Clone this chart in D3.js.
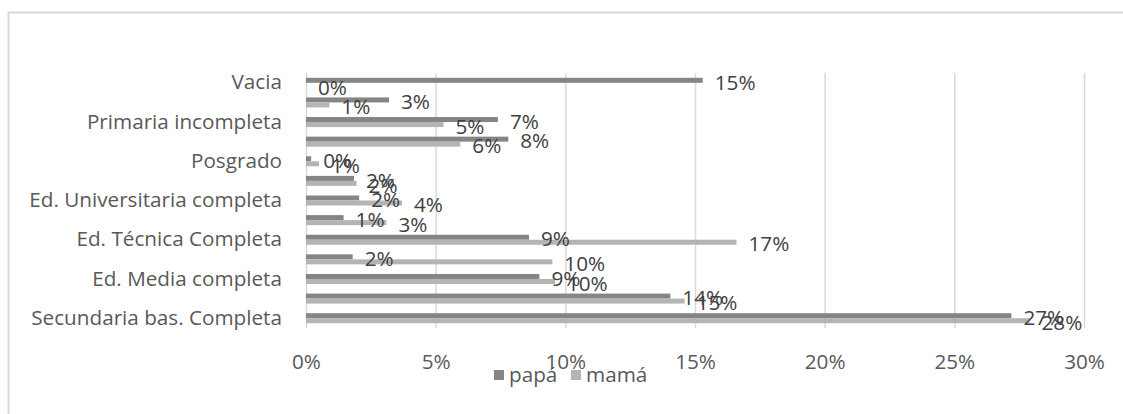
<!DOCTYPE html>
<html>
<head>
<meta charset="utf-8">
<script src="https://cdn.jsdelivr.net/npm/d3@7"></script>
<style>
  body { margin: 0; background: #fff; }
  text { font-family: "Open Sans", sans-serif; }
</style>
</head>
<body>
<div id="chart"></div>
<script>
var svgWidth = 1123;
var svgHeight = 414;

// categories from top to bottom (every other label is hidden, as in the original)
var categories = [
  "Vacia",
  "Secundaria bas. Incompleta",
  "Primaria incompleta",
  "Primaria completa",
  "Posgrado",
  "Ninguna",
  "Ed. Universitaria completa",
  "Ed. Universitaria incompleta",
  "Ed. Técnica Completa",
  "Ed. Técnica incompleta",
  "Ed. Media completa",
  "Ed. Media incompleta",
  "Secundaria bas. Completa"
];
var papa = [15.3, 3.2, 7.4, 7.8, 0.2, 1.85, 2.05, 1.45, 8.6, 1.8, 9.0, 14.05, 27.2];
var mama = [0.0, 0.9, 5.3, 5.95, 0.5, 1.95, 3.7, 3.1, 16.6, 9.5, 9.6, 14.6, 27.9];
var seriesNames = ["papá", "mamá"];
var seriesColors = ["#858585", "#b4b4b4"];
var xTicks = [0, 5, 10, 15, 20, 25, 30];

var fontSize = "20.7px";

var margin = { top: 73, right: 39, bottom: 86, left: 306 };
var width = svgWidth - margin.left - margin.right;
var height = svgHeight - margin.top - margin.bottom;

var svg = d3.select("#chart")
  .append("svg")
  .attr("width", svgWidth)
  .attr("height", svgHeight);

// chart frame
svg.append("rect")
  .attr("x", 8.5)
  .attr("y", 12.5)
  .attr("width", svgWidth + 20)
  .attr("height", svgHeight + 20)
  .attr("fill", "none")
  .attr("stroke", "#d9d9d9")
  .attr("stroke-width", 2);

var chartGroup = svg.append("g")
  .attr("transform", `translate(${margin.left}, ${margin.top})`);

var xScale = d3.scaleLinear()
  .domain([0, 30])
  .range([0, width]);

var yScale = d3.scaleBand()
  .domain(categories)
  .range([0, height])
  .paddingInner(0.49)
  .paddingOuter(0.245);

var ySub = d3.scaleBand()
  .domain(seriesNames)
  .range([0, yScale.bandwidth()]);

// gridlines
var grid = chartGroup.append("g")
  .call(d3.axisBottom(xScale).tickValues(xTicks).tickSize(height).tickFormat(""));
grid.select(".domain").remove();
grid.selectAll("line").attr("stroke", "#d9d9d9").attr("stroke-width", 1.5);

// x axis labels
var xAxis = chartGroup.append("g")
  .attr("transform", `translate(0, ${height})`)
  .call(d3.axisBottom(xScale).tickValues(xTicks).tickSize(0).tickPadding(26)
    .tickFormat(d => d + "%"));
xAxis.select(".domain").remove();
xAxis.selectAll("text")
  .attr("font-size", fontSize)
  .attr("font-family", "Open Sans")
  .attr("fill", "#595959");

// y axis labels, every other one
var yAxis = chartGroup.append("g")
  .call(d3.axisLeft(yScale).tickSize(0).tickPadding(24)
    .tickFormat((d, i) => i % 2 === 0 ? d : ""));
yAxis.select(".domain").remove();
yAxis.selectAll("text")
  .attr("font-size", fontSize)
  .attr("font-family", "Open Sans")
  .attr("fill", "#595959");

// bars
var rows = categories.map((c, i) => ({ cat: c, values: [papa[i], mama[i]] }));

var groups = chartGroup.selectAll(".row")
  .data(rows)
  .enter()
  .append("g")
  .attr("class", "row")
  .attr("transform", d => `translate(0, ${yScale(d.cat)})`);

groups.selectAll("rect")
  .data(d => d.values.map((v, j) => ({ name: seriesNames[j], value: v, j: j })))
  .enter()
  .append("rect")
  .attr("x", 0)
  .attr("y", d => ySub(d.name))
  .attr("width", d => xScale(d.value))
  .attr("height", ySub.bandwidth())
  .attr("fill", d => seriesColors[d.j]);

// data labels
groups.selectAll(".lbl")
  .data(d => d.values.map((v, j) => ({ name: seriesNames[j], value: v })))
  .enter()
  .append("text")
  .attr("class", "lbl")
  .attr("x", d => xScale(d.value) + 12)
  .attr("y", d => ySub(d.name) + ySub.bandwidth() / 2 + 2)
  .attr("dy", "0.35em")
  .attr("font-size", fontSize)
  .attr("fill", "#404040")
  .text(d => Math.round(d.value) + "%");

// legend
var legend = svg.append("g")
  .attr("transform", "translate(494, 375)");
var legendX = [0, 77];
seriesNames.forEach(function(name, i) {
  legend.append("rect")
    .attr("x", legendX[i])
    .attr("y", -5)
    .attr("width", 10)
    .attr("height", 10)
    .attr("fill", seriesColors[i]);
  legend.append("text")
    .attr("x", legendX[i] + 15)
    .attr("y", 0)
    .attr("dy", "0.35em")
    .attr("font-size", fontSize)
    .attr("fill", "#595959")
    .text(name);
});
</script>
</body>
</html>
